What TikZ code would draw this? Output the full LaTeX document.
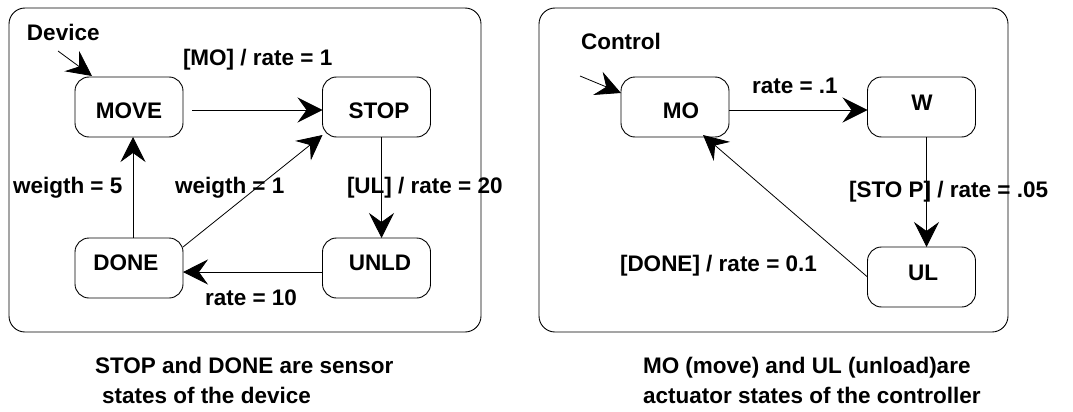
\documentclass[tikz,border=0pt]{standalone}
\usepackage{fontspec}
\setmainfont{Liberation Sans}
\usetikzlibrary{arrows.meta}
\begin{document}
\begin{tikzpicture}[x=1pt,y=-1pt,
  every node/.style={font=\fontsize{22.5}{27}\selectfont\bfseries, inner sep=0pt, outer sep=0pt},
  frame/.style={draw, line width=0.9pt, rounded corners=16pt},
  state/.style={draw, line width=0.9pt, rounded corners=14pt, minimum width=108pt, minimum height=60pt},
  txt/.style={anchor=base west},
  stxt/.style={anchor=base},
  arr/.style={line width=0.8pt, -{Stealth[length=25pt,width=25pt,inset=9pt]}}
]
\useasboundingbox (0,0) rectangle (1073,412);

% frames
\node[frame, minimum width=472pt, minimum height=324pt] (devframe) at (245,170) {};
\node[frame, minimum width=469pt, minimum height=324pt] (ctlframe) at (773.5,170) {};

% device states
\node[state] (move) at (129,107) {};
\node[state] (stop) at (376.5,107) {};
\node[state] (done) at (129,268) {};
\node[state] (unld) at (376.5,268) {};
\node[stxt] (movet) at (129,118) {MOVE};
\node[stxt] (stopt) at (379,118) {STOP};
\node[stxt] (donet) at (126,270) {DONE};
\node[stxt] (unldt) at (380,270) {UNLD};

% control states
\node[state] (mo) at (675,107) {};
\node[state] (w) at (921.5,107) {};
\node[state] (ul) at (921.5,277) {};
\node[stxt] (mot) at (681,118) {MO};
\node[stxt] (wt) at (922,110) {W};
\node[stxt] (ult) at (923,280) {UL};

% labels
\node[txt] (ldev) at (27,41) {Device};
\node[txt] (l1) at (183,66) {[MO] / rate = 1};
\node[txt] (l2) at (13,193) {weigth = 5};
\node[txt] (l3) at (175,193) {weigth = 1};
\node[txt] (l4) at (347,193) {[UL] / rate = 20};
\node[txt] (l5) at (205,305) {rate = 10};
\node[txt] (lctl) at (581,50) {Control};
\node[txt] (l6) at (752,93) {rate = .1};
\node[txt] (l7) at (849,197) {[STO P] / rate = .05};
\node[txt] (l8) at (620,271) {[DONE] / rate = 0.1};

% captions
\node[txt] (c1) at (95,373) {STOP and DONE are sensor};
\node[txt] (c2) at (102,403) {states of the device};
\node[txt] (c3) at (643,373) {MO (move) and UL (unload)are};
\node[txt] (c4) at (643,403) {actuator states of the controller};

% device connectors
\coordinate (dinit) at (58,51);
\draw[arr] (dinit) -- ([xshift=17pt,yshift=1pt]move.north west);
\draw[arr, shorten <=9pt] ([yshift=-3pt]move.east) -- ([yshift=-3pt]stop.west);
\draw[arr] ([xshift=5pt]stop.south) -- ([xshift=5pt]unld.north);
\draw[arr] ([yshift=-4pt]unld.west) -- ([yshift=-4pt]done.east);
\draw[arr] ([xshift=4pt]done.north) -- ([xshift=4pt]move.south);
\draw[arr] ([yshift=-9pt]done.north east) -- ([yshift=2pt]stop.south west);

% control connectors
\coordinate (cinit) at (580,76);
\draw[arr] (cinit) -- ([yshift=-16pt]mo.north west);
\draw[arr] ([yshift=-3pt]mo.east) -- ([yshift=-3pt]w.west);
\draw[arr] ([xshift=5pt]w.south) -- ([xshift=5pt]ul.north);
\draw[arr] (ul.west) -- ([xshift=28pt,yshift=2pt]mo.south);
\end{tikzpicture}
\end{document}
